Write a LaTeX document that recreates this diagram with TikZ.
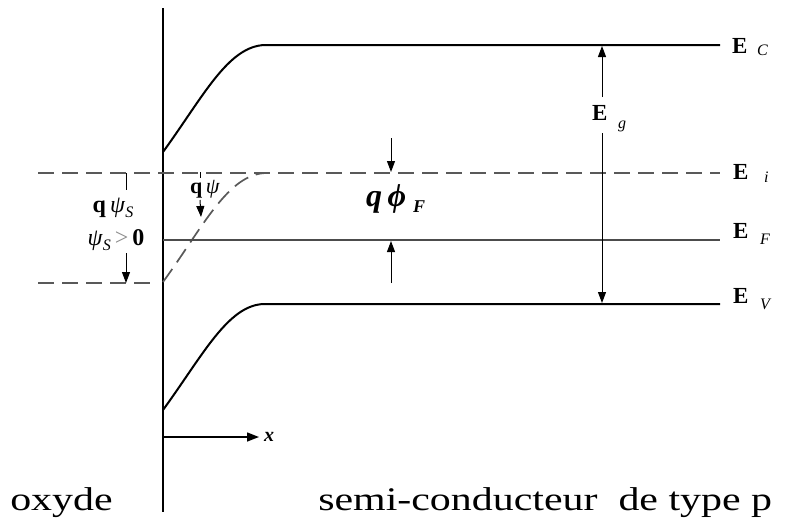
\documentclass[tikz,border=0pt]{standalone}
\usepackage{fontspec}
\setmainfont{Liberation Serif}
\usetikzlibrary{arrows.meta}
\begin{document}
\begin{tikzpicture}[x=1pt,y=-1pt,
 band/.style={line width=2pt, line join=round},
 lev/.style={line width=1.2pt, draw=black!70},
 dsh/.style={line width=1.7pt, draw=black!65, dash pattern=on 16pt off 8pt},
 arr/.style={line width=1pt,-{Triangle[length=11pt,width=8pt]}},
 tick/.style={line width=1pt},
 elab/.style={anchor=base west, inner sep=0pt, font=\fontsize{23}{23}\selectfont\bfseries},
 sub/.style={anchor=base west, inner sep=0pt, font=\fontsize{16}{16}\selectfont\itshape},
 big/.style={anchor=base west, inner sep=0pt, font=\fontsize{33}{33}\selectfont, xscale=1.27},
 sym/.style={inner sep=0pt, font=\fontsize{24}{24}\selectfont},
]
\useasboundingbox (0,0) rectangle (789,522);
% axis
\coordinate (axT) at (163,8);
\coordinate (axB) at (163,512);
\draw[line width=1.4pt] (axT) -- (axB);
% conduction band
\coordinate (c0) at (163,152);
\coordinate (c1) at (265,45);
\coordinate (c2) at (720,45);
\draw[band] (c0) .. controls (203,97) and (228,46) .. (c1) -- (c2);
% valence band
\coordinate (v0) at (163,410);
\coordinate (v1) at (264,304);
\coordinate (v2) at (720,304);
\draw[band] (v0) .. controls (203,355) and (228,305) .. (v1) -- (v2);
% intrinsic level
\coordinate (i0) at (38,173);
\coordinate (i2) at (720,173);
\coordinate (ib) at (163,282);
\coordinate (i1) at (266,173);
\draw[dsh] (i0) -- (i2);
\draw[dsh] (ib) .. controls (203,227) and (228,174) .. (i1);
\coordinate (l0) at (38,283);
\coordinate (l1) at (150,283);
\draw[dsh] (l0) -- (l1);
% Fermi level
\coordinate (f0) at (163,240);
\coordinate (f1) at (720,240);
\draw[lev] (f0) -- (f1);
% labels on right
\node[elab] (EC) at (732,53) {E};
\node[sub] (ECs) at (757,55) {C};
\node[elab] (Ei) at (733,179) {E};
\node[sub] (Eis) at (764,182) {i};
\node[elab] (EF) at (733,238) {E};
\node[sub] (EFs) at (760,244) {F};
\node[elab] (EV) at (733,303) {E};
\node[sub] (EVs) at (760,309) {V};
% Eg
\node[elab] (Eg) at (592,120) {E};
\node[sub] (Egs) at (618,128) {g};
\coordinate (g0) at (602,97);
\coordinate (g1) at (602,46);
\coordinate (g2) at (602,133);
\coordinate (g3) at (602,303);
\draw[arr] (g0) -- (g1);
\draw[arr] (g2) -- (g3);
% q phi F
\coordinate (p0) at (391,138);
\coordinate (p1) at (391,172);
\coordinate (p2) at (391,283);
\coordinate (p3) at (391,241);
\draw[arr] (p0) -- (p1);
\draw[arr] (p2) -- (p3);
\node[anchor=base west, inner sep=0pt, font=\fontsize{32}{32}\selectfont\bfseries\itshape] (qphi) at (366,206) {q\,ϕ};
\node[anchor=base west, inner sep=0pt, font=\fontsize{18}{18}\selectfont\bfseries\itshape] (qphis) at (413,212) {F};
% q psi S (left)
\coordinate (t0) at (126,173);
\coordinate (t1) at (126,190);
\draw[tick] (t0) -- (t1);
\node[sym] (qpsiS) at (113,208) {\textbf{q}\,\textit{ψ}\raisebox{-5pt}{\fontsize{16}{16}\selectfont\itshape S}};
\node[sym] (psiS) at (116,240) {\textit{ψ}\raisebox{-5pt}{\fontsize{16}{16}\selectfont\itshape S}\,\textcolor{black!45}{>}\,\textbf{0}};
\coordinate (a0) at (126,253);
\coordinate (a1) at (126,283);
\draw[arr] (a0) -- (a1);
% q psi (middle)
\coordinate (m0) at (200,172);
\coordinate (m1) at (200,178);
\draw[tick] (m0) -- (m1);
\node[sym, font=\fontsize{22}{22}\selectfont] (qpsi) at (205,189) {\textbf{q}\,\textit{ψ}};
\coordinate (m2) at (200,200);
\coordinate (m3) at (201,217);
\draw[arr] (m2) -- (m3);
% x axis
\coordinate (x0) at (163,437);
\coordinate (x1) at (259,437);
\draw[line width=1.4pt,-{Triangle[length=12pt,width=9pt]}] (x0) -- (x1);
\node[anchor=west, inner sep=0pt, font=\fontsize{20}{20}\selectfont\bfseries\itshape] (xl) at (264,437) {x};
% bottom labels
\node[big] (ox) at (10,510) {oxyde};
\node[big] (sc) at (318,510) {semi-conducteur\ \ de type p};
\end{tikzpicture}
\end{document}
